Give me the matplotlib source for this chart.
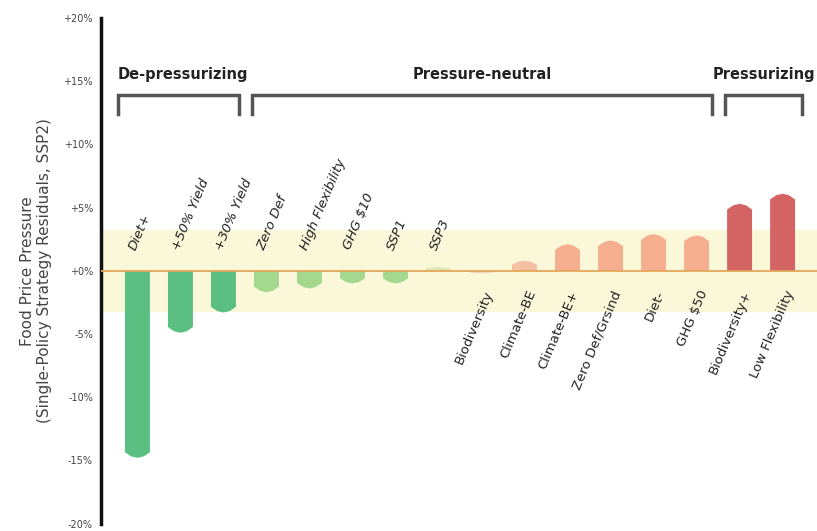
import matplotlib.pyplot as plt
import numpy as np

strategies = ["Diet+", "+50% Yield", "+30% Yield", "Zero Def", "High Flexibility",
              "GHG $10", "SSP1", "SSP3", "Biodiversity", "Climate-BE", "Climate-BE+",
              "Zero Def/Grsind", "Diet-", "GHG $50", "Biodiversity+", "Low Flexibility"]
residuals = [-14.8, -4.9, -3.3, -1.7, -1.4, -1.0, -1.0, 0.3, -0.2, 0.8, 2.1,
             2.4, 2.9, 2.8, 5.3, 6.1]
bar_colors = ["#5cbf82", "#5cbf82", "#5cbf82", "#a5d88f", "#a5d88f", "#a5d88f",
              "#a5d88f", "#dcebb4", "#f2d4c4", "#f4c0a2", "#f5ae8e", "#f5ae8e",
              "#f5ae8e", "#f5ae8e", "#d46464", "#d46464"]
labels_above = 8  # first n strategies get their label above the zero line

groups = ["De-pressurizing", "Pressure-neutral", "Pressurizing"]
group_spans = [(-0.45, 2.35), (2.67, 13.37), (13.67, 15.45)]

neutral_band = 3.2

fig = plt.figure(figsize=(8.17, 5.31), dpi=100)
ax = fig.add_axes([0.124, 0.014, 0.876, 0.952])

ax.axhspan(-neutral_band, neutral_band, color="#fbf7d9", zorder=0)
ax.axhline(0, color="#e3a65a", lw=1.3, zorder=3)

w = 0.29
x = np.arange(len(strategies))
for xi, v, c in zip(x, residuals, bar_colors):
    tip = min(0.45, abs(v) * 0.4) * np.sign(v)
    xs = [xi - w, xi - w, xi - w * 0.5, xi, xi + w * 0.5, xi + w, xi + w]
    ys = [0, v - tip, v - tip * 0.25, v, v - tip * 0.25, v - tip, 0]
    ax.fill(xs, ys, color=c, lw=0, zorder=2)

for i, (xi, name) in enumerate(zip(x, strategies)):
    if i < labels_above:
        ax.text(xi - 0.12, 1.7, name, rotation=67, rotation_mode="anchor",
                ha="left", va="center", fontsize=9.5, style="italic", color="#222")
    else:
        ax.text(xi + 0.18, -1.6, name, rotation=67, rotation_mode="anchor",
                ha="right", va="center", fontsize=9.5, color="#222")

for g, (a, b) in zip(groups, group_spans):
    ax.plot([a, a, b, b], [12.4, 13.9, 13.9, 12.4], color="#555", lw=2.5,
            solid_joinstyle="miter", zorder=3)
ax.text(group_spans[0][0], 15.5, groups[0], ha="left", va="center",
        fontsize=10.5, fontweight="bold", color="#222")
ax.text(np.mean(group_spans[1]), 15.5, groups[1], ha="center", va="center",
        fontsize=10.5, fontweight="bold", color="#222")
ax.text(np.mean(group_spans[2]), 15.5, groups[2], ha="center", va="center",
        fontsize=10.5, fontweight="bold", color="#222")

ax.set_xlim(-0.84, 15.8)
ax.set_ylim(-20, 20)
yt = np.arange(-20, 21, 5)
ax.set_yticks(yt)
ax.set_yticklabels([f"+{t}%" if t >= 0 else f"{t}%" for t in yt], fontsize=7,
                   color="#444")
ax.tick_params(axis="y", length=0, pad=6)
ax.set_xticks([])
for s in ["top", "right", "bottom"]:
    ax.spines[s].set_visible(False)
ax.spines["left"].set_linewidth(2.5)
ax.spines["left"].set_color("#111")
ax.set_ylabel("Food Price Pressure\n(Single-Policy Strategy Residuals, SSP2)",
              fontsize=11, color="#444", labelpad=8)

fig.savefig("out.png", dpi=100)
plt.close(fig)
